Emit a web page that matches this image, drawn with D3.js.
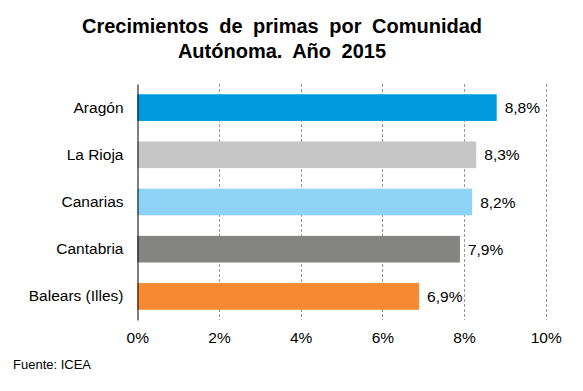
<!DOCTYPE html>
<html>
<head>
<meta charset="utf-8">
<script src="https://cdn.jsdelivr.net/npm/d3@7"></script>
<style>
  html, body { margin: 0; padding: 0; background: #fff; }
  svg { display: block; font-family: "Liberation Sans", Arial, sans-serif; }
</style>
</head>
<body>
<svg id="chart" width="583" height="391"></svg>
<script>
const categories = ["Aragón", "La Rioja", "Canarias", "Cantabria", "Balears (Illes)"];
const values = [8.8, 8.3, 8.2, 7.9, 6.9];
const barColors = ["#009ADE", "#C6C6C6", "#8ED3F5", "#848482", "#F58A32"];
const tickValues = [0, 2, 4, 6, 8, 10];
const titleLines = ["Crecimientos de primas por Comunidad", "Autónoma. Año 2015"];
const sourceText = "Fuente: ICEA";

const svg = d3.select("#chart");
const locale = d3.formatLocale({decimal: ",", thousands: ".", grouping: [3], currency: ["", "€"]});
const fmt = locale.format(".1f");

const x = d3.scaleLinear().domain([0, 10]).range([137.3, 545.7]);
const y = d3.scaleBand().domain(categories).range([84, 320])
  .paddingInner(0.435).paddingOuter(0.2175);

// title
svg.append("g").selectAll("text").data(titleLines).join("text")
  .attr("x", 282).attr("y", (d, i) => 33 + i * 25)
  .attr("text-anchor", "middle")
  .style("font-size", "20px").style("font-weight", "bold")
  .style("word-spacing", "5px")
  .attr("fill", "#000")
  .text(d => d);

// gridlines
svg.append("g").selectAll("line").data(tickValues.filter(d => d > 0)).join("line")
  .attr("x1", d => Math.round(x(d)) + 0.5).attr("x2", d => Math.round(x(d)) + 0.5)
  .attr("y1", 84).attr("y2", 320)
  .attr("stroke", "#9a9a9a").attr("stroke-width", 1)
  .attr("stroke-dasharray", "3,2");

// bars
svg.append("g").selectAll("rect").data(categories).join("rect")
  .attr("x", x(0))
  .attr("y", d => y(d))
  .attr("width", (d, i) => x(values[i]) - x(0))
  .attr("height", y.bandwidth())
  .attr("fill", (d, i) => barColors[i]);

// value labels
svg.append("g").selectAll("text").data(categories).join("text")
  .attr("x", (d, i) => x(values[i]) + 8)
  .attr("y", d => y(d) + y.bandwidth() / 2)
  .attr("dy", "0.36em")
  .style("font-size", "15.5px")
  .attr("fill", "#000")
  .text((d, i) => fmt(values[i]) + "%");

// y axis
const yAxis = svg.append("g")
  .attr("transform", `translate(${Math.round(x(0)) + 0.5},0)`)
  .call(d3.axisLeft(y).tickSize(0).tickSizeOuter(0).tickPadding(14));
yAxis.select(".domain").attr("stroke", "#000");
yAxis.selectAll("text").style("font-size", "15.5px").attr("fill", "#000")
  .style("font-family", "\"Liberation Sans\", Arial, sans-serif");

// x axis
const xAxis = svg.append("g")
  .attr("transform", "translate(0,320)")
  .call(d3.axisBottom(x).tickValues(tickValues).tickSize(0).tickPadding(12)
    .tickFormat(d => d + "%"));
xAxis.select(".domain").remove();
xAxis.selectAll("text").style("font-size", "15.5px").attr("fill", "#000")
  .style("font-family", "\"Liberation Sans\", Arial, sans-serif");

// source
svg.append("text")
  .attr("x", 13).attr("y", 369)
  .style("font-size", "13px").attr("fill", "#000")
  .text(sourceText);
</script>
</body>
</html>
